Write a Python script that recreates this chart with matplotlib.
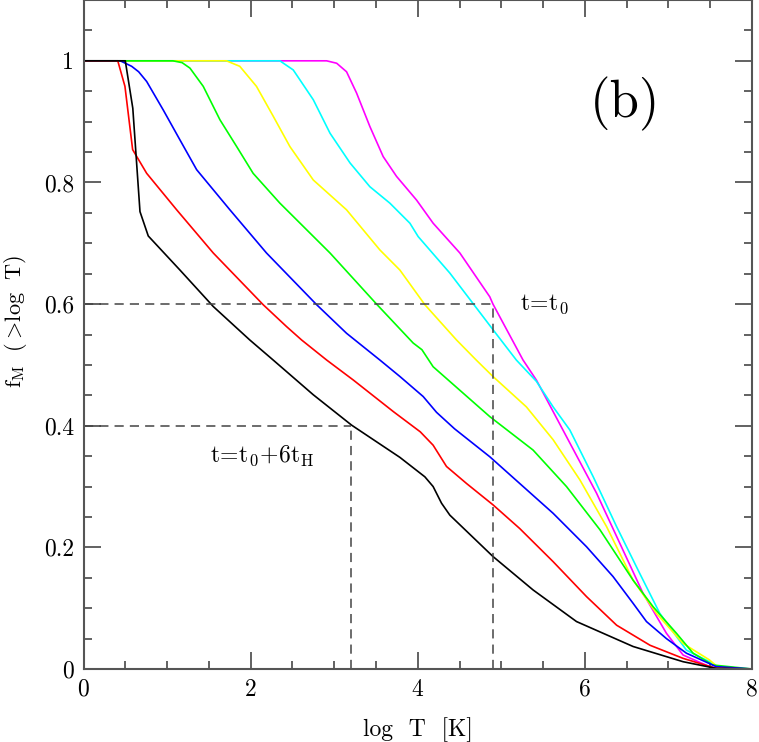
import matplotlib
matplotlib.use("Agg")
import matplotlib.pyplot as plt
from matplotlib.ticker import MultipleLocator, FixedLocator, FixedFormatter

plt.rcParams['font.family'] = 'serif'
plt.rcParams['font.serif'] = ['cmr10']
plt.rcParams['mathtext.fontset'] = 'cm'
plt.rcParams['axes.formatter.use_mathtext'] = True

# ---------------- data ----------------
black_x = [0, 0.5, 0.59, 0.676, 0.775, 1.154, 1.553, 1.99, 2.27, 2.749, 3.208, 3.786, 4.085, 4.184, 4.285, 4.384, 4.90, 5.38, 5.90, 6.577, 7.175, 7.57, 8.0]
black_y = [1, 1, 0.922, 0.752, 0.712, 0.656, 0.596, 0.541, 0.508, 0.451, 0.401, 0.348, 0.316, 0.300, 0.2725, 0.253, 0.185, 0.130, 0.078, 0.037, 0.012, 0.001, 0.0]

red_x = [0, 0.41, 0.496, 0.588, 0.756, 1.115, 1.553, 2.15, 2.43, 2.61, 2.91, 3.23, 3.71, 4.03, 4.10, 4.184, 4.344, 4.584, 4.90, 5.22, 5.62, 6.02, 6.38, 6.78, 7.175, 7.57, 8.0]
red_y = [1, 1, 0.958, 0.854, 0.815, 0.755, 0.684, 0.599, 0.563, 0.541, 0.508, 0.475, 0.423, 0.390, 0.380, 0.368, 0.333, 0.305, 0.270, 0.231, 0.1765, 0.119, 0.072, 0.039, 0.0175, 0.001, 0.0]

blue_x = [0, 0.44, 0.576, 0.66, 0.756, 0.955, 1.154, 1.354, 1.752, 2.19, 2.79, 3.148, 3.547, 3.786, 4.065, 4.225, 4.44, 4.862, 5.62, 6.02, 6.337, 6.577, 6.737, 6.976, 7.215, 7.57, 8.0]
blue_y = [1, 1, 0.991, 0.982, 0.966, 0.919, 0.870, 0.821, 0.755, 0.684, 0.599, 0.552, 0.508, 0.481, 0.448, 0.422, 0.395, 0.349, 0.256, 0.201, 0.152, 0.108, 0.078, 0.050, 0.026, 0.004, 0.0]

green_x = [0, 1.07, 1.18, 1.274, 1.433, 1.633, 1.833, 2.03, 2.35, 2.95, 3.507, 3.945, 4.05, 4.184, 4.862, 5.38, 5.78, 6.18, 6.577, 6.816, 7.096, 7.295, 7.53, 8.0]
green_y = [1, 1, 0.997, 0.988, 0.958, 0.903, 0.859, 0.815, 0.766, 0.684, 0.600, 0.536, 0.525, 0.497, 0.415, 0.360, 0.300, 0.229, 0.146, 0.1025, 0.0587, 0.026, 0.0066, 0.0]

yellow_x = [0, 1.71, 1.87, 2.07, 2.27, 2.47, 2.75, 3.148, 3.547, 3.786, 4.085, 4.464, 4.70, 4.90, 5.30, 5.62, 5.94, 6.26, 6.577, 6.856, 7.175, 7.49, 7.61, 8.0]
yellow_y = [1, 1, 0.991, 0.958, 0.909, 0.859, 0.804, 0.755, 0.689, 0.656, 0.599, 0.541, 0.508, 0.481, 0.431, 0.377, 0.311, 0.234, 0.146, 0.0916, 0.042, 0.015, 0.001, 0.0]

cyan_x = [0, 2.35, 2.51, 2.75, 2.95, 3.19, 3.427, 3.666, 3.786, 3.906, 4.005, 4.384, 4.90, 5.18, 5.42, 5.62, 5.82, 6.10, 6.38, 6.657, 6.896, 7.215, 7.49, 7.61, 8.0]
cyan_y = [1, 1, 0.985, 0.936, 0.881, 0.832, 0.793, 0.766, 0.7495, 0.733, 0.711, 0.651, 0.558, 0.508, 0.473, 0.431, 0.393, 0.316, 0.234, 0.157, 0.0916, 0.031, 0.012, 0.001, 0.0]

magenta_x = [0, 2.91, 3.03, 3.148, 3.268, 3.427, 3.586, 3.746, 3.986, 4.184, 4.504, 4.862, 4.90, 5.26, 5.42, 5.78, 6.14, 6.417, 6.696, 6.976, 7.175, 7.49, 7.61, 8.0]
magenta_y = [1, 1, 0.996, 0.982, 0.947, 0.892, 0.8426, 0.81, 0.771, 0.733, 0.684, 0.612, 0.60, 0.508, 0.475, 0.382, 0.289, 0.207, 0.1245, 0.0587, 0.023, 0.004, 0.001, 0.0]

# reference guides (dashed)
guide_t0 = (4.9, 0.6)
guide_t6 = (3.2, 0.4)

xtick_vals = [0, 2, 4, 6, 8]
xtick_labels = ['0', '2', '4', '6', '8']
ytick_vals = [0, 0.2, 0.4, 0.6, 0.8, 1.0]
ytick_labels = ['0', '0.2', '0.4', '0.6', '0.8', '1']

# ---------------- figure ----------------
fig = plt.figure(figsize=(7.59, 7.42), dpi=100)
ax = fig.add_axes([83.5 / 759, 73 / 742, 668.5 / 759, 669 / 742])

series = [
    (magenta_x, magenta_y, '#ff00ff'),
    (cyan_x, cyan_y, '#00ffff'),
    (yellow_x, yellow_y, '#ffff00'),
    (green_x, green_y, '#00ff00'),
    (blue_x, blue_y, '#0000ff'),
    (red_x, red_y, '#ff0000'),
    (black_x, black_y, '#000000'),
]
for xs, ys, c in series:
    ax.plot(xs, ys, color=c, lw=1.2, solid_joinstyle='round')

dash = (0, (6, 4))
for gx, gy in (guide_t0, guide_t6):
    ax.plot([0, gx], [gy, gy], color='#444444', lw=1.1, linestyle=dash)
    ax.plot([gx, gx], [0, gy], color='#444444', lw=1.1, linestyle=dash)

ax.set_xlim(0, 8)
ax.set_ylim(0, 1.1)

ax.xaxis.set_major_locator(FixedLocator(xtick_vals))
ax.xaxis.set_major_formatter(FixedFormatter(xtick_labels))
ax.yaxis.set_major_locator(FixedLocator(ytick_vals))
ax.yaxis.set_major_formatter(FixedFormatter(ytick_labels))
ax.xaxis.set_minor_locator(MultipleLocator(0.5))
ax.yaxis.set_minor_locator(MultipleLocator(0.05))

spine_c = '#555555'
for s in ax.spines.values():
    s.set_color(spine_c)
    s.set_linewidth(1.5)
ax.tick_params(which='both', direction='in', top=True, right=True, color=spine_c, width=1.3)
ax.tick_params(which='major', length=12, labelsize=17, pad=7)
ax.tick_params(which='minor', length=6)

ax.set_xlabel('log  T  [K]', fontsize=17, labelpad=12)
ax.set_ylabel(r'$\mathrm{f_M\ \ (>\!log\ \ T)}$', fontsize=16)
ax.yaxis.set_label_coords(-0.081, 0.52)

ax.text(5.22, 0.59, r'$\mathrm{t\!=\!t_0}$', fontsize=17, ha='left', va='baseline')
ax.text(1.51, 0.34, r'$\mathrm{t\!=\!t_0\!+\!6t_H}$', fontsize=17, ha='left', va='baseline')
ax.text(6.48, 0.929, '(b)', fontsize=38, ha='center', va='center')

fig.savefig('out.png', dpi=100)
